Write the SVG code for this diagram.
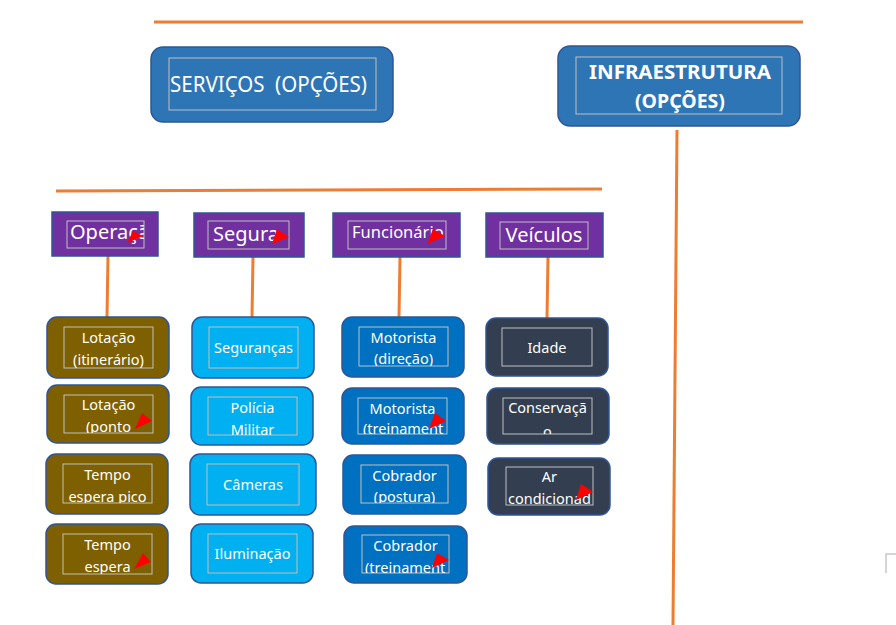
<svg xmlns="http://www.w3.org/2000/svg" width="896" height="625" viewBox="0 0 896 625">
<style>
.box{stroke:#2F5597;stroke-width:1.5}
.inner{fill:none;stroke:#BFBFBF;stroke-width:1}
.top{fill:#2E75B6}
.cat{fill:#7030A0}
.brown{fill:#7F6000}
.cyan{fill:#00B0F0}
.blue{fill:#0070C0}
.dark{fill:#333F50}
.ln{stroke:#ED7D31;stroke-width:3;fill:none}
.t{font-family:"Noto Sans","Open Sans","DejaVu Sans",sans-serif;fill:#FFFFFF}
.lf{font-size:14.5px}
.ct{font-size:20px}
.m{text-anchor:middle}
.tri{fill:#FF0000}
.pre{white-space:pre}
</style>
<defs>
<clipPath id="c-op"><rect x="67" y="221" width="77" height="27"/></clipPath>
<clipPath id="c-se"><rect x="208" y="221" width="81" height="28"/></clipPath>
<clipPath id="c-fu"><rect x="348" y="221" width="98" height="28"/></clipPath>
<clipPath id="c-l1"><rect x="64" y="327" width="89" height="41"/></clipPath>
<clipPath id="c-l2"><rect x="64" y="395" width="89" height="38"/></clipPath>
<clipPath id="c-l3"><rect x="63" y="464" width="89" height="39"/></clipPath>
<clipPath id="c-l4"><rect x="63" y="534" width="89" height="40"/></clipPath>
<clipPath id="c-s2"><rect x="208" y="397" width="89" height="38"/></clipPath>
<clipPath id="c-f1"><rect x="359" y="327" width="89" height="39"/></clipPath>
<clipPath id="c-f2"><rect x="358" y="398" width="89" height="36"/></clipPath>
<clipPath id="c-f3"><rect x="361" y="465" width="87" height="38"/></clipPath>
<clipPath id="c-f4"><rect x="362" y="535" width="87" height="38"/></clipPath>
<clipPath id="c-v2"><rect x="503" y="398" width="89" height="36"/></clipPath>
<clipPath id="c-v3"><rect x="506" y="467" width="87" height="38"/></clipPath>
</defs>

<g id="connectors">
<line class="ln" x1="154" y1="22" x2="803" y2="22"/>
<line class="ln" x1="56" y1="191" x2="602" y2="189"/>
<line class="ln" x1="677" y1="130" x2="673" y2="625"/>
<line class="ln" x1="108" y1="256" x2="107" y2="317"/>
<line class="ln" x1="253" y1="257" x2="252" y2="317"/>
<line class="ln" x1="400" y1="257" x2="399" y2="317"/>
<line class="ln" x1="548" y1="257" x2="547" y2="318"/>
</g>

<g id="servicos">
<rect class="box top" x="151" y="47" width="242" height="75" rx="12"/>
<rect class="inner" x="169" y="58" width="207" height="52"/>
<text class="t pre" xml:space="preserve" x="170" y="92" font-size="22" textLength="197" lengthAdjust="spacingAndGlyphs">SERVIÇOS  (OPÇÕES)</text>
</g>

<g id="infraestrutura">
<rect class="box top" x="558" y="46" width="242" height="80" rx="12"/>
<rect class="inner" x="576" y="57" width="206" height="57"/>
<text class="t m" x="680" y="79" font-size="19.5" font-weight="bold" textLength="182" lengthAdjust="spacingAndGlyphs">INFRAESTRUTURA</text>
<text class="t m" x="680" y="108" font-size="19.5" font-weight="bold">(OPÇÕES)</text>
</g>

<g id="operacao">
<rect class="box cat" x="52" y="212" width="106" height="44"/>
<rect class="inner" x="67" y="221" width="77" height="27"/>
<text class="t ct" x="70" y="239" clip-path="url(#c-op)">Operaçã</text>
<polygon class="tri" points="127,243 143,236 133,231"/>
</g>

<g id="seguranca">
<rect class="box cat" x="194" y="213" width="110" height="44"/>
<rect class="inner" x="208" y="221" width="81" height="28"/>
<text class="t ct" x="213" y="241" clip-path="url(#c-se)">Segura</text>
<polygon class="tri" points="272,244 289,237 277,229"/>
</g>

<g id="funcionario">
<rect class="box cat" x="333" y="213" width="127" height="44"/>
<rect class="inner" x="348" y="221" width="98" height="28"/>
<text class="t" x="352" y="238" font-size="16.5" clip-path="url(#c-fu)">Funcionário</text>
<polygon class="tri" points="427,244 445,236 433,229"/>
</g>

<g id="veiculos">
<rect class="box cat" x="486" y="213" width="117" height="44"/>
<rect class="inner" x="500" y="222" width="88" height="27"/>
<text class="t ct m" x="544" y="242">Veículos</text>
</g>

<g id="lotacao-itinerario">
<rect class="box brown" x="47" y="317" width="122" height="61" rx="10"/>
<rect class="inner" x="64" y="327" width="89" height="41"/>
<g clip-path="url(#c-l1)"><text class="t lf m" x="108.5" y="343">Lotação</text>
<text class="t lf m" x="108.5" y="365">(itinerário)</text></g>
</g>

<g id="lotacao-ponto">
<rect class="box brown" x="47" y="385" width="122" height="58" rx="10"/>
<rect class="inner" x="64" y="395" width="89" height="38"/>
<g clip-path="url(#c-l2)"><text class="t lf m" x="108.5" y="410">Lotação</text>
<text class="t lf" x="86" y="432">(ponto</text></g>
<polygon class="tri" points="135,429 152,421 142,413"/>
</g>

<g id="tempo-espera-pico">
<rect class="box brown" x="46" y="454" width="122" height="60" rx="10"/>
<rect class="inner" x="63" y="464" width="89" height="39"/>
<g clip-path="url(#c-l3)"><text class="t lf m" x="107.5" y="480">Tempo</text>
<text class="t lf m" x="107.5" y="502">espera pico</text></g>
</g>

<g id="tempo-espera">
<rect class="box brown" x="46" y="524" width="122" height="60" rx="10"/>
<rect class="inner" x="63" y="534" width="89" height="40"/>
<g clip-path="url(#c-l4)"><text class="t lf m" x="107.5" y="550">Tempo</text>
<text class="t lf m" x="107.5" y="572">espera</text></g>
<polygon class="tri" points="134,569 151,562 143,553"/>
</g>

<g id="segurancas">
<rect class="box cyan" x="192" y="317" width="122" height="61" rx="10"/>
<rect class="inner" x="209" y="327" width="89" height="41"/>
<text class="t lf m" x="253.5" y="353">Seguranças</text>
</g>

<g id="policia-militar">
<rect class="box cyan" x="191" y="387" width="122" height="58" rx="10"/>
<rect class="inner" x="208" y="397" width="89" height="38"/>
<g clip-path="url(#c-s2)"><text class="t lf m" x="252.5" y="413">Polícia</text>
<text class="t lf m" x="252.5" y="435">Militar</text></g>
</g>

<g id="cameras">
<rect class="box cyan" x="190" y="454" width="126" height="61" rx="10"/>
<rect class="inner" x="207" y="464" width="92" height="41"/>
<text class="t lf m" x="253" y="490">Câmeras</text>
</g>

<g id="iluminacao">
<rect class="box cyan" x="191" y="524" width="122" height="59" rx="10"/>
<rect class="inner" x="208" y="534" width="89" height="39"/>
<text class="t lf m" x="252.5" y="559">Iluminação</text>
</g>

<g id="motorista-direcao">
<rect class="box blue" x="342" y="317" width="122" height="60" rx="10"/>
<rect class="inner" x="359" y="327" width="89" height="39"/>
<g clip-path="url(#c-f1)"><text class="t lf m" x="403.5" y="343">Motorista</text>
<text class="t lf m" x="403.5" y="364">(direção)</text></g>
</g>

<g id="motorista-treinamento">
<rect class="box blue" x="342" y="388" width="122" height="56" rx="10"/>
<rect class="inner" x="358" y="398" width="89" height="36"/>
<g clip-path="url(#c-f2)"><text class="t lf m" x="402.5" y="414">Motorista</text>
<text class="t lf" x="363" y="434">(treinament</text></g>
<polygon class="tri" points="429,429 446,421 435,413"/>
</g>

<g id="cobrador-postura">
<rect class="box blue" x="343" y="455" width="123" height="59" rx="10"/>
<rect class="inner" x="361" y="465" width="87" height="38"/>
<g clip-path="url(#c-f3)"><text class="t lf m" x="404.5" y="481">Cobrador</text>
<text class="t lf m" x="404.5" y="502">(postura)</text></g>
</g>

<g id="cobrador-treinamento">
<rect class="box blue" x="344" y="526" width="123" height="57" rx="10"/>
<rect class="inner" x="362" y="535" width="87" height="38"/>
<g clip-path="url(#c-f4)"><text class="t lf m" x="405.5" y="551">Cobrador</text>
<text class="t lf" x="365" y="573">(treinament</text></g>
<polygon class="tri" points="432,568 449,560 437,553"/>
</g>

<g id="idade">
<rect class="box dark" x="486" y="318" width="122" height="58" rx="10"/>
<rect class="inner" x="502" y="328" width="90" height="38"/>
<text class="t lf m" x="547" y="353">Idade</text>
</g>

<g id="conservacao">
<rect class="box dark" x="487" y="388" width="122" height="56" rx="10"/>
<rect class="inner" x="503" y="398" width="89" height="36"/>
<g clip-path="url(#c-v2)"><text class="t lf m" x="547.5" y="413">Conservaçã</text>
<text class="t lf m" x="547.5" y="437">o</text></g>
</g>

<g id="ar-condicionado">
<rect class="box dark" x="488" y="458" width="122" height="57" rx="10"/>
<rect class="inner" x="506" y="467" width="87" height="38"/>
<g clip-path="url(#c-v3)"><text class="t lf m" x="549.5" y="482">Ar</text>
<text class="t lf" x="508" y="504">condicionad</text></g>
<polygon class="tri" points="576,500 593,492 581,484"/>
</g>

<path d="M886,573 V554 H896" fill="none" stroke="#C8C8C8" stroke-width="1.5"/>
</svg>
